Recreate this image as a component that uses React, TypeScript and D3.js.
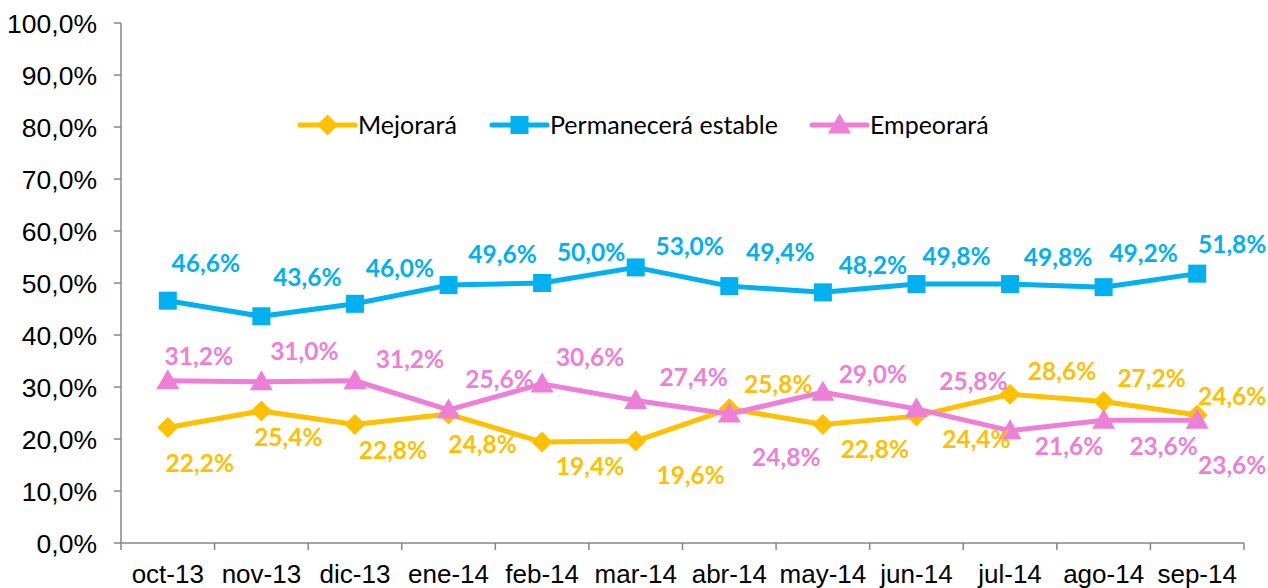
import React from "react";
import * as d3 from "d3";

const categories = ["oct-13","nov-13","dic-13","ene-14","feb-14","mar-14","abr-14","may-14","jun-14","jul-14","ago-14","sep-14"];
const mejorara = [22.2,25.4,22.8,24.8,19.4,19.6,25.8,22.8,24.4,28.6,27.2,24.6];
const permanecera = [46.6,43.6,46.0,49.6,50.0,53.0,49.4,48.2,49.8,49.8,49.2,51.8];
const empeorara = [31.2,31.0,31.2,25.6,30.6,27.4,24.8,29.0,25.8,21.6,23.6,23.6];
const yTicks = [0,10,20,30,40,50,60,70,80,90,100];
const seriesNames = ["Mejorará","Permanecerá estable","Empeorará"];

// label placement offsets (px) relative to each point
const offMej: [number, number][] = [[32,36],[27,26],[38,26],[34,30],[48,24],[55,34],[49,-25],[52,25],[60,23],[52,-23],[48,-23],[35,-19]];
const offPer: [number, number][] = [[38,-38],[46,-39],[45,-36],[54,-31],[49,-31],[54,-21],[51,-34],[50,-27],[40,-28],[48,-27],[40,-34],[35,-29]];
const offEmp: [number, number][] = [[31,-25],[43,-31],[55,-22],[51,-31],[48,-27],[58,-23],[57,43],[50,-18],[57,-28],[59,15],[60,26],[35,45]];

const W = 1268, H = 588;
const left = 121, right = 1244, top = 23, bottom = 543;
const axisColor = "#868686";
const fmt = (v: number) => v.toFixed(1).replace(".", ",") + "%";

const colors = ["#FFC000", "#00B0F0", "#EE7FD6"];

function Marker({ kind, x, y, color }: { kind: string; x: number; y: number; color: string }) {
  if (kind === "diamond") {
    const r = 10.5;
    return <path d={`M${x},${y - r}L${x + r},${y}L${x},${y + r}L${x - r},${y}Z`} fill={color} />;
  }
  if (kind === "square") {
    const s = 18;
    return <rect x={x - s / 2} y={y - s / 2} width={s} height={s} fill={color} />;
  }
  const r = 11.5;
  return <path d={`M${x},${y - r}L${x + r},${y + 8.5}L${x - r},${y + 8.5}Z`} fill={color} />;
}

export default function App() {
  const x = d3.scaleBand<string>().domain(categories).range([left, right]);
  const y = d3.scaleLinear().domain([0, 100]).range([bottom, top]);
  const cx = (i: number) => (x(categories[i]) as number) + x.bandwidth() / 2;
  const line = d3.line<number>().x((_, i) => cx(i)).y((d) => y(d));

  const series = [
    { vals: mejorara, color: colors[0], kind: "diamond", off: offMej },
    { vals: permanecera, color: colors[1], kind: "square", off: offPer },
    { vals: empeorara, color: colors[2], kind: "triangle", off: offEmp },
  ];
  const drawOrder = [1, 0, 2];

  const legendItems = [
    { lx: 300, tx: 358, kind: "diamond" },
    { lx: 492, tx: 550, kind: "square" },
    { lx: 812, tx: 870, kind: "triangle" },
  ];
  const xTicks = categories.map((c) => x(c) as number).concat([right]);

  return (
    <svg width={W} height={H} style={{ position: "absolute", left: 0, top: 0, background: "#fff" }}>
      <line x1={left} x2={left} y1={top} y2={bottom} stroke={axisColor} strokeWidth={1.5} />
      <line x1={left} x2={right} y1={bottom} y2={bottom} stroke={axisColor} strokeWidth={1.5} />
      {yTicks.map((t) => (
        <g key={t}>
          <line x1={left - 7} x2={left} y1={y(t)} y2={y(t)} stroke={axisColor} strokeWidth={1.5} />
          <text x={97} y={y(t)} dy="0.36em" textAnchor="end" fontFamily="'Liberation Sans', Arial, sans-serif" fontSize={26.5} fill="#000">
            {fmt(t)}
          </text>
        </g>
      ))}
      {xTicks.map((t, i) => (
        <line key={i} x1={t} x2={t} y1={bottom} y2={bottom + 7} stroke={axisColor} strokeWidth={1.5} />
      ))}
      {categories.map((c, i) => (
        <text key={c} x={cx(i)} y={583} textAnchor="middle" fontFamily="'Liberation Sans', Arial, sans-serif" fontSize={26} fill="#000">
          {c}
        </text>
      ))}

      {drawOrder.map((si) => {
        const s = series[si];
        return (
          <g key={si}>
            <path d={line(s.vals) || ""} fill="none" stroke={s.color} strokeWidth={5} strokeLinejoin="round" />
            {s.vals.map((v, i) => (
              <Marker key={i} kind={s.kind} x={cx(i)} y={y(v)} color={s.color} />
            ))}
          </g>
        );
      })}

      {drawOrder.map((si) => {
        const s = series[si];
        return (
          <g key={"l" + si}>
            {s.vals.map((v, i) => (
              <text key={i} x={cx(i) + s.off[i][0]} y={y(v) + s.off[i][1]} dy="0.36em" textAnchor="middle"
                fontFamily="Lato, 'Open Sans', sans-serif" fontWeight={700} fontSize={24.5} fill={s.color}>
                {fmt(v)}
              </text>
            ))}
          </g>
        );
      })}

      {legendItems.map((it, i) => (
        <g key={i}>
          <line x1={it.lx} x2={it.lx + 55} y1={125} y2={125} stroke={series[i].color} strokeWidth={5} strokeLinecap="round" />
          <Marker kind={it.kind} x={it.lx + 27.5} y={125} color={series[i].color} />
          <text x={it.tx} y={125} dy="0.36em" fontFamily="Lato, 'Open Sans', sans-serif" fontSize={25} fill="#000">
            {seriesNames[i]}
          </text>
        </g>
      ))}
    </svg>
  );
}
